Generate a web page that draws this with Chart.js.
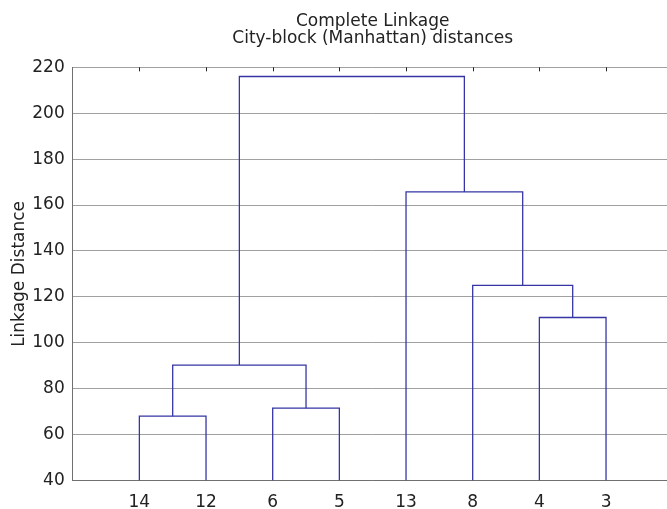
<!DOCTYPE html>
<html lang="en">
<head>
<meta charset="UTF-8">
<title>dendrogram</title>
<script src="https://cdn.jsdelivr.net/npm/chart.js@4.4.0/dist/chart.umd.min.js"></script>
<style>
body { margin: 0; overflow: hidden; background: #fff; }
</style>
</head>
<body>
<canvas id="mycanvas" width="700" height="509"></canvas>
<script>
var leafLabels = ['14', '12', '6', '5', '13', '8', '4', '3'];
// nodes 0-7 are the leaves, every merge adds a new node (8, 9, ...)
var mergeLeft = [0, 2, 8, 6, 5, 4, 10];
var mergeRight = [1, 3, 9, 7, 11, 12, 13];
var mergeHeight = [68, 71.5, 90.3, 111, 125, 165.7, 216];
var yMin = 40, yMax = 220, yStep = 20;

var fontFamily = '"DejaVu Sans", Arial, sans-serif';
var lineColor = '#3535a5';

// lay out the tree: leaves at 1..n, a merge sits midway between its children
var nodeX = [], nodeY = [];
leafLabels.forEach(function (l, i) { nodeX.push(i + 1); nodeY.push(yMin); });
var datasets = [];
for (var i = 0; i < mergeHeight.length; i++) {
    var a = mergeLeft[i], b = mergeRight[i], h = mergeHeight[i];
    datasets.push({
        data: [
            { x: nodeX[a], y: nodeY[a] },
            { x: nodeX[a], y: h },
            { x: nodeX[b], y: h },
            { x: nodeX[b], y: nodeY[b] }
        ],
        showLine: true,
        borderColor: lineColor,
        borderWidth: 1.3,
        pointRadius: 0,
        fill: false,
        tension: 0
    });
    nodeX.push((nodeX[a] + nodeX[b]) / 2);
    nodeY.push(h);
}

// small inward tick marks along the top edge
var topTicks = {
    id: 'topTicks',
    afterDraw: function (chart) {
        var ctx = chart.ctx, xs = chart.scales.x, top = chart.chartArea.top;
        ctx.save();
        ctx.strokeStyle = '#222';
        ctx.lineWidth = 1;
        xs.ticks.forEach(function (t) {
            var px = Math.round(xs.getPixelForValue(t.value)) + 0.5;
            ctx.beginPath();
            ctx.moveTo(px, top);
            ctx.lineTo(px, top + 4);
            ctx.stroke();
        });
        ctx.restore();
    }
};

new Chart(document.getElementById('mycanvas'), {
    type: 'scatter',
    data: { datasets: datasets },
    plugins: [topTicks],
    options: {
        responsive: false,
        animation: false,
        layout: { padding: { left: 0, right: 27.3, top: 0, bottom: 0 } },
        plugins: {
            legend: { display: false },
            tooltip: { enabled: false },
            title: {
                display: true,
                text: ['Complete Linkage', 'City-block (Manhattan) distances'],
                fullSize: false,
                color: '#222',
                font: { family: fontFamily, size: 17, weight: 'normal', lineHeight: 1 },
                padding: { top: 13, bottom: 20.3 }
            }
        },
        scales: {
            x: {
                type: 'linear',
                min: 0,
                max: leafLabels.length + 1,
                grid: { display: false, drawTicks: false },
                border: { display: true, color: '#707070' },
                ticks: {
                    color: '#222',
                    font: { family: fontFamily, size: 17 },
                    padding: 12,
                    callback: function (v) { return leafLabels[v - 1]; }
                },
                afterBuildTicks: function (s) {
                    s.ticks = leafLabels.map(function (l, i) { return { value: i + 1 }; });
                },
                afterFit: function (s) { s.height = 28.5; }
            },
            y: {
                min: yMin,
                max: yMax,
                grid: { color: '#a0a0a0', drawTicks: false },
                border: { display: true, color: '#707070' },
                ticks: {
                    stepSize: yStep,
                    color: '#222',
                    font: { family: fontFamily, size: 17 },
                    padding: 8
                },
                title: {
                    display: true,
                    text: 'Linkage Distance',
                    color: '#222',
                    font: { family: fontFamily, size: 17 },
                    padding: { top: 9, bottom: 0 }
                },
                afterFit: function (s) { s.width = 72.7; }
            }
        }
    }
});
</script>
</body>
</html>
